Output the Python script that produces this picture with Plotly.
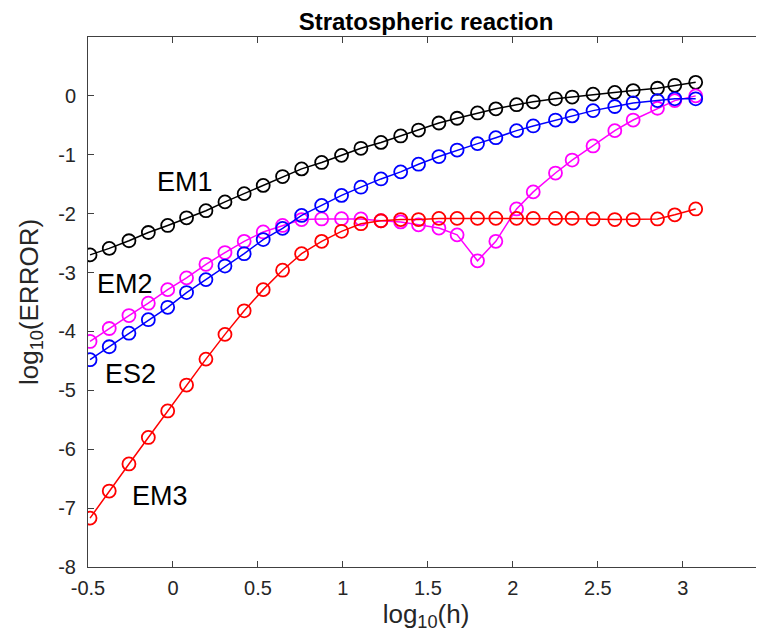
import plotly.graph_objects as go

# log10(h) values (shared by all series)
log_h = [-0.488, -0.375, -0.259, -0.145, -0.031, 0.080, 0.194, 0.306, 0.419, 0.531,
         0.645, 0.757, 0.875, 0.992, 1.106, 1.224, 1.340, 1.445, 1.565, 1.672,
         1.792, 1.900, 2.022, 2.120, 2.251, 2.349, 2.472, 2.600, 2.708, 2.851,
         2.953, 3.076]

em1 = [-2.70, -2.59, -2.46, -2.32, -2.20, -2.07, -1.95, -1.80, -1.66, -1.52,
       -1.37, -1.24, -1.13, -1.01, -0.89, -0.79, -0.68, -0.58, -0.46, -0.38,
       -0.29, -0.22, -0.15, -0.10, -0.05, -0.02, 0.03, 0.06, 0.09, 0.13,
       0.18, 0.23]

em2 = [-4.17, -3.95, -3.73, -3.52, -3.29, -3.09, -2.86, -2.66, -2.47, -2.31,
       -2.20, -2.10, -2.09, -2.085, -2.09, -2.12, -2.14, -2.19, -2.245, -2.36,
       -2.80, -2.47, -1.92, -1.63, -1.31, -1.09, -0.85, -0.59, -0.41, -0.21,
       -0.08, 0.00]

es2 = [-4.48, -4.26, -4.03, -3.80, -3.59, -3.34, -3.12, -2.89, -2.68, -2.44,
       -2.25, -2.03, -1.86, -1.69, -1.55, -1.41, -1.29, -1.16, -1.03, -0.92,
       -0.81, -0.71, -0.59, -0.51, -0.41, -0.34, -0.25, -0.18, -0.12, -0.08,
       -0.05, -0.05]

em3 = [-7.17, -6.71, -6.25, -5.80, -5.35, -4.91, -4.47, -4.05, -3.65, -3.29,
       -2.96, -2.68, -2.47, -2.30, -2.17, -2.12, -2.10, -2.10, -2.08, -2.08,
       -2.08, -2.08, -2.08, -2.08, -2.08, -2.08, -2.09, -2.10, -2.10, -2.09,
       -2.02, -1.92]

series_names = ["EM1", "EM2", "ES2", "EM3"]
series_values = [em1, em2, es2, em3]
series_colors = ["#000000", "#FF00FF", "#0000FF", "#FF0000"]

label_text = ["EM1", "EM2", "ES2", "EM3"]
label_x = [0.07, -0.28, -0.25, -0.076]
label_y = [-1.465, -3.197, -4.725, -6.80]

x_ticks = [-0.5, 0, 0.5, 1, 1.5, 2, 2.5, 3]
x_tick_text = ["-0.5", "0", "0.5", "1", "1.5", "2", "2.5", "3"]
y_ticks = [-8, -7, -6, -5, -4, -3, -2, -1, 0]
y_tick_text = ["-8", "-7", "-6", "-5", "-4", "-3", "-2", "-1", "0"]

FONT = "Liberation Sans, Arial, Helvetica, sans-serif"
AXC = "#404040"

fig = go.Figure()
for name, vals, col in zip(series_names, series_values, series_colors):
    fig.add_trace(go.Scatter(
        x=log_h, y=vals, mode="lines+markers", name=name,
        line=dict(color=col, width=1.5),
        marker=dict(symbol="circle-open", size=13, color=col, line=dict(width=1.8, color=col)),
        showlegend=False,
    ))

for t, x, y in zip(label_text, label_x, label_y):
    fig.add_annotation(x=x, y=y, text=t, showarrow=False,
                       font=dict(family=FONT, size=27, color="#000000"),
                       xanchor="center", yanchor="middle")

axis_common = dict(
    showline=True, linecolor=AXC, linewidth=1, mirror="ticks",
    ticks="inside", ticklen=6, tickcolor=AXC, tickwidth=1,
    showgrid=False, zeroline=False, automargin=False,
    tickfont=dict(family=FONT, size=20, color="#262626"),
)

# the page body adds an 8px offset, so margins are compensated
fig.update_layout(
    width=764, height=642,
    margin=dict(l=80, r=8, t=29, b=83, autoexpand=False),
    paper_bgcolor="white", plot_bgcolor="white",
    title=dict(text="<b>Stratospheric reaction</b>", x=418 / 764, xanchor="center",
               y=1 - 14 / 642, yanchor="middle", automargin=False,
               font=dict(family=FONT, size=24, color="#000000")),
    xaxis=dict(range=[-0.5, 3.478], tickvals=x_ticks, ticktext=x_tick_text,
               ticklabelstandoff=3,
               title=dict(text="log<sub>10</sub>(h)", font=dict(family=FONT, size=26, color="#262626"),
                          standoff=6),
               **axis_common),
    yaxis=dict(range=[-8, 1], tickvals=y_ticks, ticktext=y_tick_text,
               ticklabelstandoff=7,
               title=dict(text="log<sub>10</sub>(ERROR)", font=dict(family=FONT, size=26, color="#262626"),
                          standoff=12),
               **axis_common),
)

fig.write_html("out.html")
